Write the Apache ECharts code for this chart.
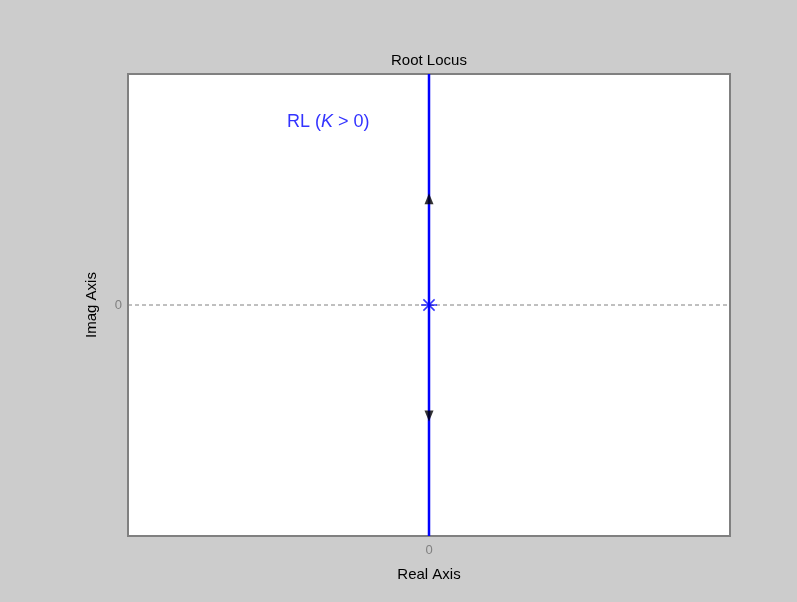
<!DOCTYPE html>
<html>
<head>
<meta charset="utf-8">
<script src="https://cdn.jsdelivr.net/npm/echarts@6/dist/echarts.min.js"></script>
<style>
  html, body { margin: 0; padding: 0; background: #cccccc; }
  #chart { width: 797px; height: 602px; }
</style>
</head>
<body>
<div id="chart"></div>
<script>
// Axis limits
const xLimits = [-1, 1];
const yLimits = [-1, 1];
const tickValues = [0];

// Root locus branch of a double pole at the origin (along the imaginary axis)
const locusReal = [0, 0];
const locusImag = [-1, 1];

// Open-loop pole
const poleReal = [0];
const poleImag = [0];

// Direction arrows along the branch
const arrowUp = [[0, 0.46]];
const arrowDown = [[0, -0.48]];

const blue = '#0000ff';
const font = '"Liberation Sans", Arial, sans-serif';

// Asterisk marker (stroked path)
const asterisk = 'path://M5 0 L5 10 M0 5 L10 5 M1.5 1.5 L8.5 8.5 M8.5 1.5 L1.5 8.5';

const chart = echarts.init(document.getElementById('chart'));
chart.setOption({
  backgroundColor: '#cccccc',
  animation: false,
  title: {
    text: 'Root Locus',
    left: 386,
    top: 48,
    textStyle: { fontFamily: font, fontSize: 15, fontWeight: 'normal', color: '#000' }
  },
  grid: {
    left: 128, right: 67, top: 74, bottom: 66,
    show: true, backgroundColor: '#ffffff', borderColor: '#808080', borderWidth: 2
  },
  xAxis: {
    type: 'value',
    min: xLimits[0], max: xLimits[1], interval: 1,
    name: 'Real Axis', nameLocation: 'middle', nameGap: 31,
    nameTextStyle: { fontFamily: font, fontSize: 15, color: '#000' },
    axisLine: { show: false },
    splitLine: { show: false },
    axisTick: { show: true, inside: true, length: 5, lineStyle: { color: '#808080' }, customValues: tickValues },
    axisLabel: { fontFamily: font, fontSize: 13, color: '#808080', margin: 8, customValues: tickValues }
  },
  yAxis: {
    type: 'value',
    min: yLimits[0], max: yLimits[1], interval: 1,
    name: 'Imag Axis', nameLocation: 'middle', nameGap: 29, nameRotate: 90,
    nameTextStyle: { fontFamily: font, fontSize: 15, color: '#000' },
    axisLine: { show: false },
    splitLine: { show: false },
    axisTick: { show: true, inside: true, length: 5, lineStyle: { color: '#808080' }, customValues: tickValues },
    axisLabel: { fontFamily: font, fontSize: 13, color: '#808080', margin: 6, customValues: tickValues }
  },
  graphic: [{
    type: 'text',
    left: 287, top: 113,
    style: {
      text: '{n|RL (}{i|K}{n| > 0)}',
      rich: {
        n: { fontFamily: font, fontSize: 18, fill: '#3333ff' },
        i: { fontFamily: font, fontSize: 18, fontStyle: 'italic', fill: '#3333ff' }
      }
    }
  }],
  series: [
    {
      type: 'line',
      data: xLimits.map(x => [x, 0]),
      symbol: 'none',
      lineStyle: { color: '#808080', width: 1, type: [4, 3] },
      silent: true, z: 1
    },
    {
      type: 'line',
      data: locusReal.map((x, i) => [x, locusImag[i]]),
      symbol: 'none',
      lineStyle: { color: blue, width: 2.5 },
      z: 2
    },
    {
      type: 'scatter',
      data: arrowUp,
      symbol: 'triangle', symbolSize: [9, 11],
      itemStyle: { color: '#000' }, z: 3
    },
    {
      type: 'scatter',
      data: arrowDown,
      symbol: 'triangle', symbolRotate: 180, symbolSize: [9, 11],
      itemStyle: { color: '#000' }, z: 3
    },
    {
      type: 'scatter',
      data: poleReal.map((x, i) => [x, poleImag[i]]),
      symbol: asterisk, symbolSize: 16,
      itemStyle: { color: 'none', borderColor: blue, borderWidth: 1.5 }, z: 4
    }
  ]
});
</script>
</body>
</html>
